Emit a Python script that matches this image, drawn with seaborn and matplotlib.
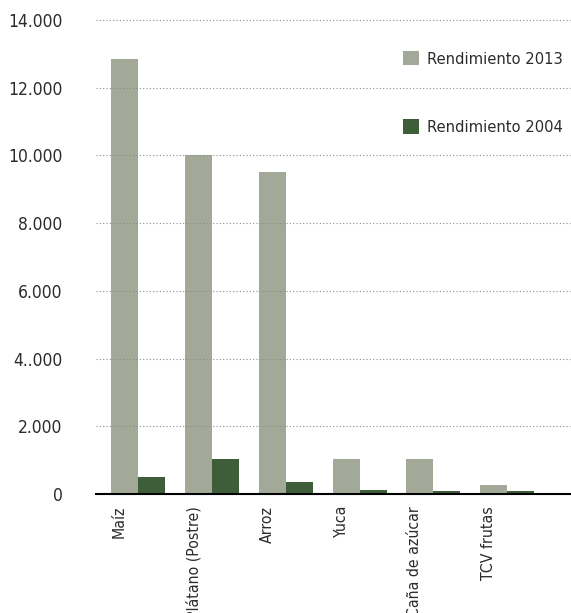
import pandas as pd
import matplotlib
matplotlib.use('Agg')
import matplotlib.pyplot as plt
import seaborn as sns
import numpy as np

# values
categories = ['Maíz', 'Plátano (Postre)', 'Arroz', 'Yuca', 'Caña de azúcar', 'TCV frutas']
rend_2013 = [12850, 10000, 9520, 1040, 1040, 260]
rend_2004 = [500, 1040, 350, 120, 90, 90]
series = ['Rendimiento 2013', 'Rendimiento 2004']
ytick_vals = [0, 2000, 4000, 6000, 8000, 10000, 12000, 14000]
ytick_labels = ['0', '2.000', '4..000', '6.000', '8.000', '10.000', '12.000', '14.000']

df = pd.DataFrame({
    'Cultivo': categories * 2,
    'Rendimiento': rend_2013 + rend_2004,
    'Serie': [series[0]] * len(categories) + [series[1]] * len(categories),
})

sns.set_style('white')
plt.rcParams['font.family'] = ['DejaVu Sans']
plt.rcParams['font.stretch'] = 'condensed'
text_color = '#2b2b2b'

fig = plt.figure(figsize=(5.71, 6.13), dpi=100)
ax = fig.add_axes([96 / 571, 1 - 494 / 613, 474 / 571, 474 / 613])

sns.barplot(data=df, x='Cultivo', y='Rendimiento', hue='Serie', hue_order=series,
            palette=['#a3a998', '#3e5e3a'], saturation=1, width=0.732,
            linewidth=0, ax=ax)

ax.set_ylim(0, 14000)
ax.set_xlim(-0.569, 5.85)
ax.set_yticks(ytick_vals, labels=ytick_labels)
ax.set_xticks(np.arange(len(categories)) - 0.25, labels=categories, rotation=90)
ax.set_xlabel('')
ax.set_ylabel('')
ax.tick_params(axis='y', length=0, pad=24, labelsize=12.5, labelcolor=text_color)
ax.tick_params(axis='x', length=0, pad=8.5, labelsize=11.3, labelcolor=text_color)

ax.grid(axis='y', linestyle=(0, (1, 2)), color='#8a8a8a', linewidth=0.8)
ax.set_axisbelow(False)
for line in ax.get_ygridlines():
    line.set_clip_on(False)
ax.get_ygridlines()[0].set_visible(False)

sns.despine(ax=ax, left=True, top=True, right=True)
ax.spines['bottom'].set_color('black')
ax.spines['bottom'].set_linewidth(1.5)
ax.spines['bottom'].set_zorder(5)

leg = ax.legend(loc='upper left', bbox_to_anchor=(403 / 571, 1 - 51 / 613),
                bbox_transform=fig.transFigure, frameon=False, fontsize=11.8,
                handlelength=0.98, handleheight=0.98, handletextpad=0.48,
                labelspacing=3.2, borderpad=0, borderaxespad=0)
for t in leg.get_texts():
    t.set_color(text_color)

fig.savefig('out.png', dpi=100)
